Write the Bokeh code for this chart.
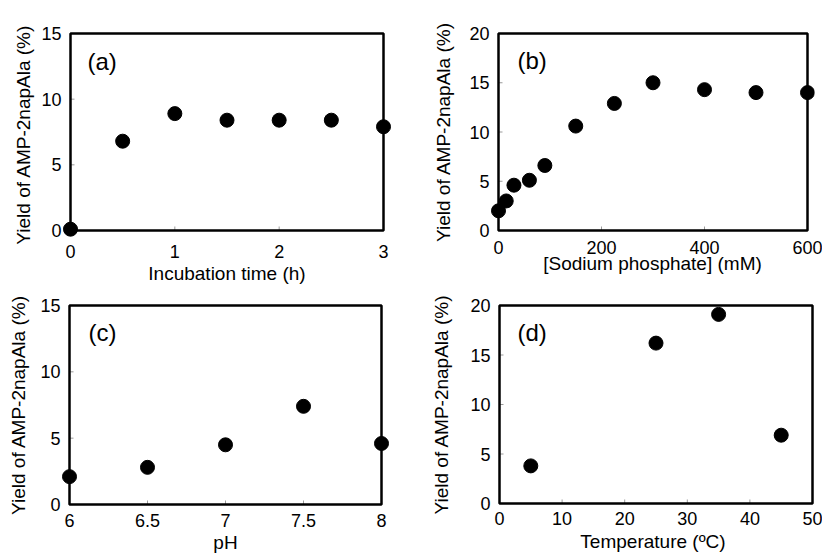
import math
from bokeh.plotting import figure
from bokeh.models import Range1d, FixedTicker, CustomJSTickFormatter, Label
from bokeh.layouts import column, row
from bokeh.embed import file_html
from bokeh.resources import INLINE

# ---- data ----
time_h = [0, 0.5, 1, 1.5, 2, 2.5, 3]
yield_time = [0.1, 6.8, 8.9, 8.4, 8.4, 8.4, 7.9]

phosphate_mM = [0, 15, 30, 60, 90, 150, 225, 300, 400, 500, 600]
yield_phosphate = [2.0, 3.0, 4.6, 5.1, 6.6, 10.6, 12.9, 15.0, 14.3, 14.0, 14.0]

ph_values = [6, 6.5, 7, 7.5, 8]
yield_ph = [2.1, 2.8, 4.5, 7.4, 4.6]

temp_C = [5, 25, 35, 45]
yield_temp = [3.8, 16.2, 19.1, 6.9]

xticks_a = [0, 1, 2, 3]
yticks_a = [0, 5, 10, 15]
xticks_b = [0, 200, 400, 600]
yticks_b = [0, 5, 10, 15, 20]
xticks_c = [6, 6.5, 7, 7.5, 8]
yticks_c = [0, 5, 10, 15]
xticks_d = [0, 10, 20, 30, 40, 50]
yticks_d = [0, 5, 10, 15, 20]

FONT = "Liberation Sans"
TICK_FS = "18px"
LABEL_FS = "19px"
TAG_FS = "24px"


def panel(xs, ys, xticks, yticks, xlabel, ylabel, tag,
          box_w, box_h, pads, borders,
          ystand, xstand, ylab_stand, xlab_stand, tag_dx, tag_dy):
    pl, pr, pb_, pt = pads
    mb_left, mb_right, mb_top, mb_bottom = borders
    x0, x1 = xticks[0], xticks[-1]
    y0, y1 = yticks[0], yticks[-1]
    ux = (x1 - x0) / box_w
    uy = (y1 - y0) / box_h
    p = figure(frame_width=box_w + pl + pr, frame_height=box_h + pb_ + pt,
               x_range=Range1d(x0 - pl * ux, x1 + pr * ux),
               y_range=Range1d(y0 - pb_ * uy, y1 + pt * uy),
               output_backend="svg", toolbar_location=None,
               min_border_left=mb_left, min_border_right=mb_right,
               min_border_top=mb_top, min_border_bottom=mb_bottom,
               background_fill_color="white", border_fill_color="white")
    p.outline_line_color = None
    p.grid.visible = False
    fmt = CustomJSTickFormatter(code="return tick.toString()")
    for ax, ticks in ((p.xaxis[0], xticks), (p.yaxis[0], yticks)):
        ax.ticker = FixedTicker(ticks=ticks)
        ax.formatter = fmt
        ax.axis_line_color = None
        ax.major_tick_line_color = None
        ax.minor_tick_line_color = None
        ax.major_tick_out = 0
        ax.major_tick_in = 0
        ax.major_label_text_font = FONT
        ax.major_label_text_font_size = TICK_FS
        ax.major_label_text_color = "black"
        ax.axis_label_text_font = FONT
        ax.axis_label_text_font_size = LABEL_FS
        ax.axis_label_text_font_style = "normal"
        ax.axis_label_text_color = "black"
    p.xaxis.axis_label = xlabel
    p.yaxis.axis_label = ylabel
    p.yaxis.major_label_standoff = ystand
    p.xaxis.major_label_standoff = xstand
    p.yaxis.axis_label_standoff = ylab_stand
    p.xaxis.axis_label_standoff = xlab_stand
    p.yaxis.major_label_orientation = "horizontal"

    # inward ticks on left and bottom edges
    yin = yticks[1:-1]
    xin = xticks[1:-1]
    p.ray(x=[x0] * len(yin), y=yin, length=4, length_units="screen", angle=0,
          line_color="#9a9a9a", line_width=1)
    p.ray(x=xin, y=[y0] * len(xin), length=4, length_units="screen", angle=math.pi / 2,
          line_color="#9a9a9a", line_width=1)

    # data points
    p.scatter(xs, ys, size=14, color="black")

    # box
    p.quad(left=[x0], right=[x1], bottom=[y0], top=[y1], fill_color=None,
           line_color="black", line_width=2.5)

    p.add_layout(Label(x=x0, y=y1, x_offset=tag_dx, y_offset=tag_dy, text=tag,
                       text_font=FONT, text_font_size=TAG_FS, text_baseline="top",
                       text_color="black"))
    return p


pa = panel(time_h, yield_time, xticks_a, yticks_a, "Incubation time (h)",
           "Yield of AMP-2napAla  (%)", "(a)",
           313, 197, (8, 8, 7, 7), (62, 29, 26, 51),
           1, 7, 4, 2, 17, -14)
pb = panel(phosphate_mM, yield_phosphate, xticks_b, yticks_b, "[Sodium phosphate] (mM)",
           "Yield of AMP-2napAla (%)", "(b)",
           309, 197, (8, 7, 7, 7), (70, 8, 25, 52),
           1, 3, 12, -4, 19, -13)
pc = panel(ph_values, yield_ph, xticks_c, yticks_c, "pH",
           "Yield of AMP-2napAla (%)", "(c)",
           312, 199, (8, 8, 2, 2), (61, 31, 14, 52),
           1, 7, 8, 2, 19, -13)
pd = panel(temp_C, yield_temp, xticks_d, yticks_d, "Temperature (ºC)",
           "Yield of AMP-2napAla (%)", "(d)",
           313, 198, (8, 2, 2, 2), (71, 8, 15, 52),
           1, 6, 15, 3, 18, -13)

layout = column(row(pa, pb, spacing=0), row(pc, pd, spacing=0), spacing=0)
open("out.html", "w").write(file_html(layout, INLINE))
